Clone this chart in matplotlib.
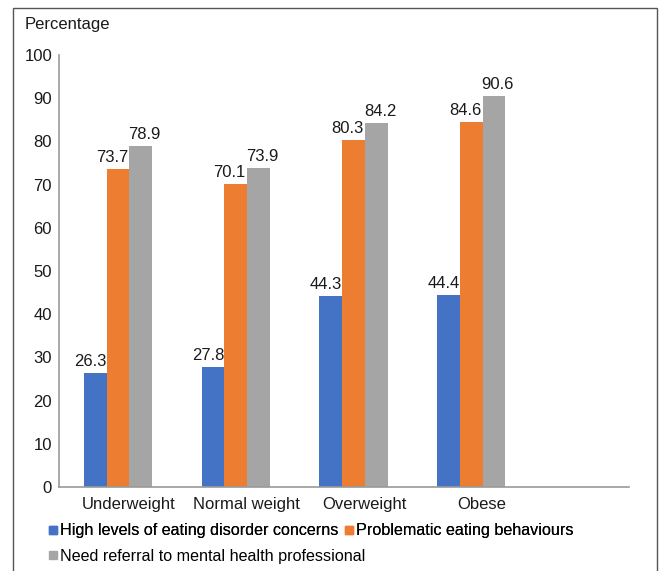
import numpy as np
import matplotlib
matplotlib.use("Agg")
import matplotlib.pyplot as plt
from matplotlib.lines import Line2D
from matplotlib.patches import Rectangle

plt.rcParams['font.family'] = ['Liberation Sans', 'DejaVu Sans']

# data
categories = ["Underweight", "Normal weight", "Overweight", "Obese"]
series_names = ["High levels of eating disorder concerns",
                "Problematic eating behaviours",
                "Need referral to mental health professional"]
high_concern = [26.3, 27.8, 44.3, 44.4]
problematic = [73.7, 70.1, 80.3, 84.6]
need_referral = [78.9, 73.9, 84.2, 90.6]

colors = ["#4472C4", "#ED7D31", "#A5A5A5"]
fs = 12.0

fig = plt.figure(figsize=(6.59, 5.71), dpi=100)
ax = fig.add_axes([59 / 659, 1 - 487 / 571, 570 / 659, 432 / 571])

x = np.arange(len(categories))
w = 0.193
label_dx = [-5, -6, 4]  # pixel nudges of the data labels, as in the source
for k, vals in enumerate([high_concern, problematic, need_referral]):
    xs = x + (k - 1) * w
    ax.bar(xs, vals, width=w, color=colors[k], zorder=2)
    for xi, v in zip(xs, vals):
        ax.annotate(f"{v:.1f}", (xi, v), xytext=(label_dx[k] * 0.72, 5),
                    textcoords="offset points", ha="center", va="baseline",
                    fontsize=fs, color="#1a1a1a")

ax.set_xlim(-0.5, 4.34)
ax.set_ylim(0, 100)
ax.set_yticks(np.arange(0, 101, 10))
ax.set_xticks(x + 0.09)
ax.set_xticklabels(categories)
ax.tick_params(axis="both", length=0, labelsize=fs, colors="#1a1a1a")
ax.tick_params(axis="y", pad=5)
ax.tick_params(axis="x", pad=7)

for s in ["top", "right"]:
    ax.spines[s].set_visible(False)
for s in ["left", "bottom"]:
    ax.spines[s].set_color("#9a9a9a")
    ax.spines[s].set_linewidth(1.2)
ax.spines["bottom"].set_zorder(3)

fig.text(25 / 659, 1 - 25 / 571, "Percentage", fontsize=fs, va="center",
         color="#1a1a1a")

# legend laid out like Excel: two on the first row, one on the second
def handle(c):
    return Line2D([], [], marker="s", linestyle="none", markersize=5.8,
                  markerfacecolor=c, markeredgecolor=c)

leg_kw = dict(frameon=False, handlelength=0.5, handletextpad=0.15,
              borderpad=0, fontsize=11.6)
leg1 = fig.legend([handle(colors[0]), handle(colors[1])], series_names[:2],
                  loc="center left", bbox_to_anchor=(41 / 659, 1 - 531 / 571),
                  ncol=2, columnspacing=0.45, **leg_kw)
leg2 = fig.legend([handle(colors[2])], series_names[2:],
                  loc="center left", bbox_to_anchor=(41 / 659, 1 - 556 / 571),
                  **leg_kw)
fig.add_artist(leg1)

# outer frame
fig.add_artist(Rectangle((13 / 659, -0.01), 644 / 659, 1 - 8 / 571 + 0.01,
                         transform=fig.transFigure, fill=False,
                         edgecolor="#555555", linewidth=1.0))

fig.savefig("out.png", dpi=100)
